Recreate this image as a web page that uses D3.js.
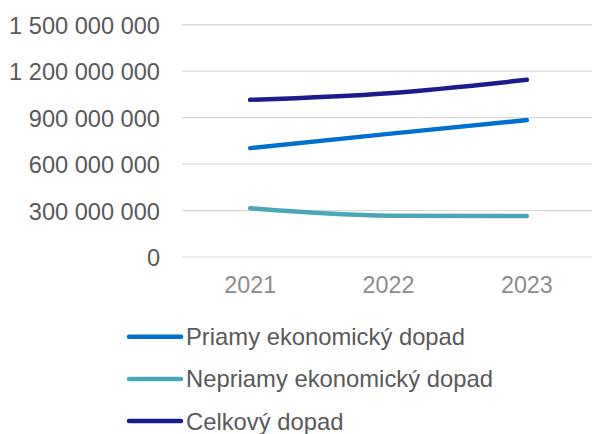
<!DOCTYPE html>
<html><head><meta charset="utf-8">
<script src="https://cdn.jsdelivr.net/npm/d3@7"></script>
<style>body{margin:0;background:#fff}svg{display:block}</style>
</head><body>
<script>
const years = ["2021", "2022", "2023"];
const priamy = [703000000, 795000000, 884000000];
const nepriamy = [315000000, 267000000, 265000000];
const celkovy = [1015000000, 1058000000, 1144000000];
const seriesNames = ["Priamy ekonomický dopad", "Nepriamy ekonomický dopad", "Celkový dopad"];
const seriesColors = ["#0070CC", "#4BA7B7", "#1B1C8C"];
const yTicks = [0, 300000000, 600000000, 900000000, 1200000000, 1500000000];

const W = 593, H = 434;
const svg = d3.select("body").append("svg").attr("width", W).attr("height", H);
const font = "Liberation Sans, Arial, sans-serif";

const x = d3.scaleBand().domain(years).range([181, 596]);
const y = d3.scaleLinear().domain([0, 1500000000]).range([257, 24.7]);

const fmt = v => d3.format(",")(v).replace(/,/g, " ");

// grid
svg.append("g").selectAll("line").data(yTicks).join("line")
  .attr("x1", 182).attr("x2", 592)
  .attr("y1", d => y(d)).attr("y2", d => y(d))
  .attr("stroke", "#d9d9d9").attr("stroke-width", 1.2);

// y labels
const yAxis = d3.axisLeft(y).tickValues(yTicks).tickFormat(fmt).tickSize(0).tickPadding(0);
const ya = svg.append("g").attr("transform", "translate(160,0)").call(yAxis);
ya.select(".domain").remove();
ya.selectAll("text").attr("font-family", font).attr("font-size", 23.6).attr("fill", "#595959").attr("dy", "0.36em");

// x labels
const xAxis = d3.axisBottom(x).tickSize(0).tickPadding(0);
const xa = svg.append("g").attr("transform", "translate(0,285)").call(xAxis);
xa.select(".domain").remove();
xa.selectAll("text").attr("font-family", font).attr("font-size", 23.3).attr("fill", "#8c8c8c").attr("dy", "0.36em");

const data = [priamy, nepriamy, celkovy];
const line = d3.line()
  .x((d, i) => x(years[i]) + x.bandwidth() / 2)
  .y(d => y(d))
  .curve(d3.curveMonotoneX);

svg.append("g").selectAll("path").data(data).join("path")
  .attr("d", d => line(d))
  .attr("fill", "none")
  .attr("stroke", (d, i) => seriesColors[i])
  .attr("stroke-width", 4.5)
  .attr("stroke-linecap", "round")
  .attr("stroke-linejoin", "round");

// legend
const lg = svg.append("g").selectAll("g").data(seriesNames).join("g")
  .attr("transform", (d, i) => `translate(0,${336.7 + i * 42.2})`);
lg.append("line").attr("x1", 129).attr("x2", 181).attr("y1", 0).attr("y2", 0)
  .attr("stroke", (d, i) => seriesColors[i]).attr("stroke-width", 4.5).attr("stroke-linecap", "round");
lg.append("text").attr("x", 186).attr("y", 0).attr("dy", "0.36em")
  .attr("font-family", font).attr("font-size", 23.8).attr("fill", "#595959")
  .text(d => d);
</script>
</body></html>
